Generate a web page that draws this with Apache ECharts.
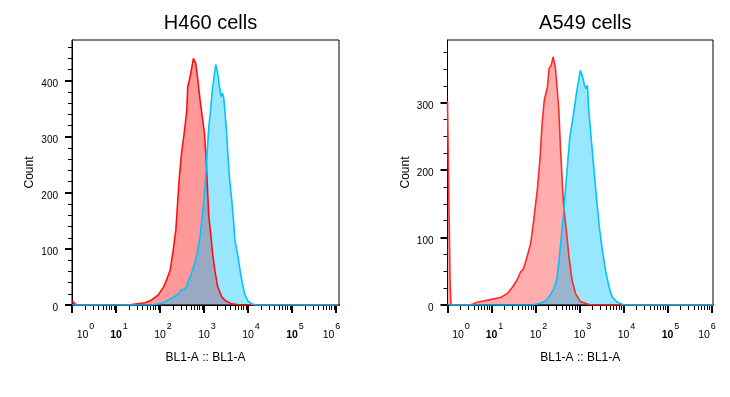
<!DOCTYPE html>
<html><head><meta charset="utf-8">
<script src="https://cdn.jsdelivr.net/npm/echarts@6/dist/echarts.min.js"></script>
<style>html,body{margin:0;padding:0;background:#fff}#c{width:730px;height:397px}</style>
</head><body><div id="c"></div>
<script>
// ---------------- data ----------------
const panelTitles = ['H460 cells', 'A549 cells'];
const xAxisName = 'BL1-A :: BL1-A';
const yAxisName = 'Count';
const xMajorExponents = [0, 1, 2, 3, 4, 5, 6];
const xMinorMultipliers = [2, 3, 4, 5, 6, 7, 8, 9];
const h460YTicks = [0, 100, 200, 300, 400];
const h460YMinorTicks = [20, 40, 60, 80, 120, 140, 160, 180, 220, 240, 260, 280, 320, 340, 360, 380, 420, 440, 460];
const a549YTicks = [0, 100, 200, 300];
const a549YMinorTicks = [25, 50, 75, 125, 150, 175, 225, 250, 275, 325, 350, 375];

// histogram points: [log10(BL1-A), count]
const h460Red = [[0.005, 7], [0.05, 4], [0.1, 0], [1.3, 0], [1.36, 1], [1.66, 4], [1.81, 9], [1.96, 18], [2.08, 32], [2.15, 45],
  [2.23, 62], [2.30, 98], [2.36, 134], [2.40, 182], [2.44, 229], [2.49, 271], [2.55, 307], [2.61, 348], [2.63, 390],
  [2.67, 402], [2.70, 414], [2.76, 440], [2.81, 432], [2.86, 402], [2.91, 366], [2.96, 336], [3.01, 307], [3.05, 259],
  [3.08, 205], [3.11, 158], [3.16, 122], [3.19, 95], [3.25, 60], [3.31, 33], [3.40, 15], [3.48, 8], [3.63, 2], [3.82, 0], [6.06, 0]];
const h460Cyan = [[0.0, 0], [1.81, 0], [2.04, 3], [2.19, 9], [2.30, 14], [2.40, 18], [2.48, 26], [2.53, 28], [2.61, 32],
  [2.64, 42], [2.72, 57], [2.80, 77], [2.86, 98], [2.91, 122], [2.96, 158], [3.01, 199], [3.05, 241], [3.08, 283],
  [3.11, 318], [3.15, 348], [3.19, 384], [3.23, 408], [3.27, 429], [3.31, 414], [3.35, 390], [3.39, 372], [3.42, 378],
  [3.45, 369], [3.48, 342], [3.52, 301], [3.55, 259], [3.59, 217], [3.63, 188], [3.67, 152], [3.70, 116], [3.76, 92],
  [3.82, 62], [3.87, 39], [3.93, 18], [3.99, 8], [4.08, 2], [4.20, 0], [6.06, 0]];
const a549Red = [[0.0, 302], [0.03, 160], [0.06, 30], [0.08, 0], [0.5, 0], [0.6, 2], [0.67, 4], [0.82, 6], [0.98, 8],
  [1.20, 11], [1.36, 17], [1.47, 26], [1.58, 37], [1.66, 49], [1.73, 54], [1.81, 72], [1.89, 91], [1.96, 126],
  [2.04, 170], [2.10, 215], [2.15, 269], [2.20, 304], [2.27, 323], [2.31, 351], [2.36, 356], [2.40, 368], [2.45, 353],
  [2.49, 323], [2.53, 289], [2.57, 230], [2.61, 180], [2.64, 146], [2.70, 111], [2.76, 72], [2.83, 37], [2.91, 17],
  [3.02, 5], [3.25, 0], [6.04, 0]];
const a549Cyan = [[0.0, 0], [1.92, 0], [2.11, 2.5], [2.23, 6], [2.34, 15], [2.42, 25], [2.48, 37], [2.53, 62], [2.58, 96],
  [2.63, 131], [2.68, 170], [2.73, 210], [2.78, 249], [2.83, 269], [2.89, 295], [2.93, 314], [2.98, 333], [3.02, 348],
  [3.08, 336], [3.11, 326], [3.15, 321], [3.18, 326], [3.21, 289], [3.27, 244], [3.33, 200], [3.39, 156], [3.45, 116],
  [3.52, 81], [3.59, 52], [3.67, 27], [3.74, 12], [3.86, 4], [4.01, 0], [6.04, 0]];

// ---------------- chart ----------------
const FONT = 'Liberation Sans, Arial, Helvetica, sans-serif';
const grids = [
  { left: 72, top: 40, width: 267, height: 265 },
  { left: 447.5, top: 40, width: 265.5, height: 265 }
];
const xMaxExp = [6.068, 6.034];
const yMax = [473, 393];
const yTicks = [h460YTicks, a549YTicks];
const yMinor = [h460YMinorTicks, a549YMinorTicks];
const redFill = ['rgba(255,0,0,0.40)', 'rgba(255,0,0,0.32)'];
const redLine = ['#ff1010', '#ff2a2a'];

const xMajorVals = xMajorExponents.map(k => Math.pow(10, k));
const xMinorVals = [];
xMajorExponents.slice(0, -1).forEach(k => xMinorMultipliers.forEach(m => xMinorVals.push(m * Math.pow(10, k))));

function xLabelFmt(v) {
  const k = Math.round(Math.log10(v));
  const base = k === 0 ? 'b0' : (k === 1 || k === 5) ? 'bb' : 'b';
  const sup = k === 6 ? 's6' : 's';
  return '{' + base + '|10}{' + sup + '|' + k + '}';
}
const xRich = {
  b: { fontSize: 10.5, color: '#000', verticalAlign: 'middle', padding: [0, 0, 0, 6] },
  bb: { fontSize: 10.5, color: '#000', fontWeight: 'bold', verticalAlign: 'middle', padding: [0, 0, 0, 6] },
  b0: { fontSize: 10.5, color: '#000', verticalAlign: 'middle', padding: [0, 0, 0, 27] },
  s: { fontSize: 9, color: '#000', verticalAlign: 'middle', padding: [0, 0, 18, 1] },
  s6: { fontSize: 9, color: '#000', verticalAlign: 'middle', padding: [0, 15, 18, 1] }
};

const xAxes = [], yAxes = [], series = [], titles = [];
[0, 1].forEach(i => {
  const xMax = Math.pow(10, xMaxExp[i]);
  xAxes.push({
    type: 'log', gridIndex: i, min: 1, max: xMax, position: 'bottom',
    axisLine: { onZero: false, lineStyle: { color: '#000', width: 2 } },
    axisTick: { customValues: xMajorVals, length: 8, lineStyle: { color: '#000', width: 2 } },
    axisLabel: { customValues: xMajorVals, formatter: xLabelFmt, rich: xRich, margin: 17 },
    splitLine: { show: false },
    name: xAxisName, nameLocation: 'middle', nameGap: 47,
    nameTextStyle: { fontSize: 12, color: '#000', fontFamily: FONT }
  });
  xAxes.push({
    type: 'log', gridIndex: i, min: 1, max: xMax, position: 'bottom',
    axisLine: { show: false, onZero: false },
    axisTick: { customValues: xMinorVals, length: 5, lineStyle: { color: '#000', width: 1 } },
    axisLabel: { show: false }, splitLine: { show: false }
  });
  yAxes.push({
    type: 'value', gridIndex: i, min: 0, max: yMax[i], position: 'left',
    axisLine: { show: true, onZero: false, lineStyle: { color: '#000', width: 1 } },
    axisTick: { customValues: yTicks[i], length: 7, lineStyle: { color: '#000', width: 2 } },
    axisLabel: { customValues: yTicks[i], margin: 14, fontSize: 10, color: '#000', verticalAlign: 'top', lineHeight: 7 },
    splitLine: { show: false },
    name: yAxisName, nameLocation: 'middle', nameGap: 35,
    nameTextStyle: { fontSize: 12, color: '#000', fontFamily: FONT, verticalAlign: 'bottom', lineHeight: 14 }
  });
  yAxes.push({
    type: 'value', gridIndex: i, min: 0, max: yMax[i], position: 'left',
    axisLine: { show: false, onZero: false },
    axisTick: { customValues: yMinor[i], length: 4, lineStyle: { color: '#000', width: 1 } },
    axisLabel: { show: false }, splitLine: { show: false }
  });
  const red = i === 0 ? h460Red : a549Red;
  const cyan = i === 0 ? h460Cyan : a549Cyan;
  series.push({
    type: 'line', xAxisIndex: 2 * i, yAxisIndex: 2 * i, showSymbol: false, silent: true,
    data: red.map(p => [Math.pow(10, p[0]), p[1]]),
    lineStyle: { color: redLine[i], width: 1.6 },
    areaStyle: { color: redFill[i], opacity: 1 }
  });
  series.push({
    type: 'line', xAxisIndex: 2 * i, yAxisIndex: 2 * i, showSymbol: false, silent: true,
    data: cyan.map(p => [Math.pow(10, p[0]), p[1]]),
    lineStyle: { color: '#00c4ff', width: 1.6 },
    areaStyle: { color: 'rgba(0,192,255,0.40)', opacity: 1 }
  });
  titles.push({
    text: panelTitles[i], left: grids[i].left + grids[i].width / 2, top: 8, textAlign: 'center',
    textStyle: { fontSize: 20, fontWeight: 'normal', color: '#000', fontFamily: FONT }
  });
});

const chart = echarts.init(document.getElementById('c'), null, { renderer: 'canvas' });
chart.setOption({
  animation: false,
  backgroundColor: '#fff',
  textStyle: { fontFamily: FONT, color: '#000' },
  title: titles,
  grid: grids.map(g => Object.assign({ show: true, borderColor: '#000', borderWidth: 1, backgroundColor: 'transparent' }, g)),
  xAxis: xAxes,
  yAxis: yAxes,
  series: series
});
</script>
</body></html>
